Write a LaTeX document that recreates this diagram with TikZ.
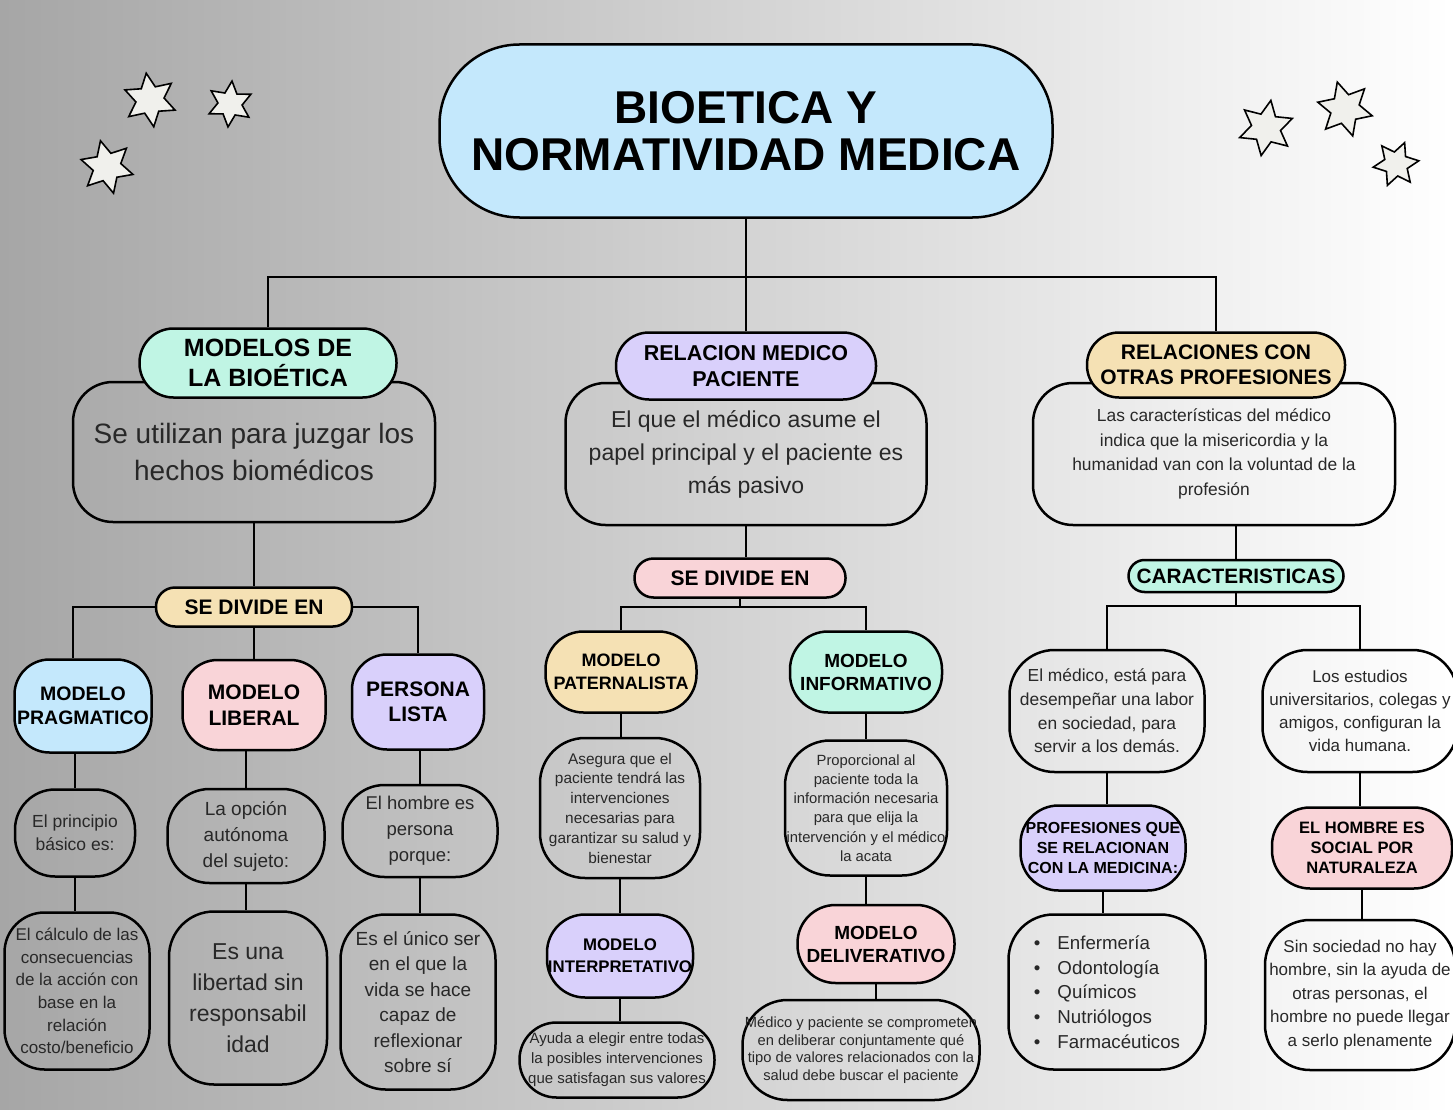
\documentclass[tikz,border=0pt]{standalone}
\usepackage{fontspec}
\setmainfont{Liberation Sans}
\usetikzlibrary{shapes.geometric}

\definecolor{skyfill}{RGB}{196,232,252}
\definecolor{mintfill}{RGB}{192,245,228}
\definecolor{lilacfill}{RGB}{217,208,251}
\definecolor{peachfill}{RGB}{245,225,180}
\definecolor{rosefill}{RGB}{249,212,216}
\definecolor{starfill}{RGB}{240,240,236}
\definecolor{bgleft}{RGB}{166,166,166}
\definecolor{bodytext}{RGB}{40,40,40}

\newcommand{\fsz}[2]{\fontsize{#1}{#2}\selectfont}

\tikzset{
	box/.style={draw, line width=2.5pt, align=center, inner sep=0pt, text=bodytext, rounded corners=40pt},
	head/.style={box, text=black},
	link/.style={line width=2.5pt},
	starry/.style={star, star points=6, star point ratio=1.9, draw, line width=1.6pt, fill=starfill, inner sep=0pt}
}

\begin{document}
\begin{tikzpicture}[x=1pt, y=-1pt]
	\useasboundingbox (0,0) rectangle (1453,1110);
	\shade[left color=bgleft, right color=white] (0,0) rectangle (1453,1110);

	% stars %
	\foreach \x/\y/\sz/\rot [count=\i] in {150/100/54/8, 230/104/46/-5, 107/167/54/14, 1266/128/56/-10, 1345/109/56/16, 1396/164/46/-22}
		\node[starry, minimum size=\sz, rotate=\rot] (star\i) at (\x,\y) {};

	% nodes %
	\node[head, fill=skyfill, minimum width=613, minimum height=173, rounded corners=80pt, font=\fsz{46}{47}\bfseries] (title) at (746,131) {BIOETICA Y\\NORMATIVIDAD MEDICA};

	% left branch
	\node[box, minimum width=362, minimum height=140, font=\fsz{28}{37}] (descl) at (254,452) {Se utilizan para juzgar los\\hechos biomédicos};
	\node[head, fill=mintfill, minimum width=257, minimum height=69, rounded corners=34pt, font=\fsz{25}{30}\bfseries] (modelos) at (268,363) {MODELOS DE\\LA BIOÉTICA};
	\node[head, fill=peachfill, minimum width=196, minimum height=39, rounded corners=19pt, font=\fsz{21}{25}\bfseries] (sdl) at (254,607) {SE DIVIDE EN};
	\node[head, fill=skyfill, minimum width=137, minimum height=93, rounded corners=35pt, font=\fsz{19.5}{24}\bfseries] (prag) at (83,706) {MODELO\\PRAGMATICO};
	\node[head, fill=rosefill, minimum width=143, minimum height=90, rounded corners=35pt, font=\fsz{21}{26}\bfseries] (lib) at (254,705) {MODELO\\LIBERAL};
	\node[head, fill=lilacfill, minimum width=132, minimum height=95, rounded corners=35pt, font=\fsz{21}{25}\bfseries] (pers) at (418,702) {PERSONA\\LISTA};
	\node[box, minimum width=120, minimum height=87, rounded corners=40pt, font=\fsz{17.5}{23}] (prin) at (75,833) {El principio\\básico es:};
	\node[box, minimum width=157, minimum height=94, rounded corners=42pt, font=\fsz{19}{26}] (opc) at (246,836) {La opción\\autónoma\\del sujeto:};
	\node[box, minimum width=155, minimum height=92, rounded corners=42pt, font=\fsz{18.5}{26}] (homb) at (420,831) {El hombre es\\persona\\porque:};
	\node[box, minimum width=145, minimum height=157, font=\fsz{17}{22.6}] (calc) at (77,991) {El cálculo de las\\consecuencias\\de la acción con\\base en la\\relación\\costo/beneficio};
	\node[box, minimum width=158, minimum height=173, rounded corners=45pt, font=\fsz{23}{31}] (libre) at (248,998) {Es una\\libertad sin\\responsabil\\idad};
	\node[box, minimum width=155, minimum height=175, rounded corners=45pt, font=\fsz{19}{25.5}] (unico) at (418,1002) {Es el único ser\\en el que la\\vida se hace\\capaz de\\reflexionar\\sobre sí};

	% middle branch
	\node[box, minimum width=361, minimum height=142, font=\fsz{23}{33}] (descm) at (746,454) {El que el médico asume el\\papel principal y el paciente es\\más pasivo};
	\node[head, fill=lilacfill, minimum width=260, minimum height=67, rounded corners=33pt, font=\fsz{21.5}{26}\bfseries] (relmed) at (746,366) {RELACION MEDICO\\PACIENTE};
	\node[head, fill=rosefill, minimum width=211, minimum height=39, rounded corners=19pt, font=\fsz{21}{25}\bfseries] (sdm) at (740,578) {SE DIVIDE EN};
	\node[head, fill=peachfill, minimum width=151, minimum height=81, rounded corners=38pt, font=\fsz{18}{23}\bfseries] (pat) at (621,672) {MODELO\\PATERNALISTA};
	\node[head, fill=mintfill, minimum width=152, minimum height=81, rounded corners=38pt, font=\fsz{19}{23}\bfseries] (inf) at (866,672) {MODELO\\INFORMATIVO};
	\node[box, minimum width=160, minimum height=140, rounded corners=45pt, font=\fsz{15.4}{19.8}] (aseg) at (620,808) {Asegura que el\\paciente tendrá las\\intervenciones\\necesarias para\\garantizar su salud y\\bienestar};
	\node[box, minimum width=162, minimum height=135, rounded corners=45pt, font=\fsz{14.8}{19.2}] (prop) at (866,808) {Proporcional al\\paciente toda la\\información necesaria\\para que elija la\\intervención y el médico\\la acata};
	\node[head, fill=lilacfill, minimum width=146, minimum height=83, rounded corners=38pt, font=\fsz{16.8}{22}\bfseries] (interp) at (620,956) {MODELO\\INTERPRETATIVO};
	\node[head, fill=rosefill, minimum width=157, minimum height=78, rounded corners=38pt, font=\fsz{19}{23}\bfseries] (deliv) at (876,944) {MODELO\\DELIVERATIVO};
	\node[box, minimum width=195, minimum height=75, rounded corners=37pt, font=\fsz{15}{20}] (ayuda) at (617,1060) {Ayuda a elegir entre todas\\la posibles intervenciones\\que satisfagan sus valores};
	\node[box, minimum width=237, minimum height=100, rounded corners=45pt, font=\fsz{14.7}{17.7}] (medpac) at (861,1050) {Médico y paciente se comprometen\\en deliberar conjuntamente qué\\tipo de valores relacionados con la\\salud debe buscar el paciente};

	% right branch
	\node[box, minimum width=362, minimum height=142, font=\fsz{17.4}{24.5}] (descr) at (1214,454) {Las características del médico\\indica que la misericordia y la\\humanidad van con la voluntad de la\\profesión};
	\node[head, fill=peachfill, minimum width=258, minimum height=65, rounded corners=32pt, font=\fsz{21}{25}\bfseries] (relotr) at (1216,365) {RELACIONES CON\\OTRAS PROFESIONES};
	\node[head, fill=mintfill, minimum width=215, minimum height=32, rounded corners=16pt, font=\fsz{20.8}{24}\bfseries] (carac) at (1236,576) {CARACTERISTICAS};
	\node[box, minimum width=195, minimum height=122, rounded corners=45pt, font=\fsz{17.4}{23.7}] (medi) at (1107,711) {El médico, está para\\desempeñar una labor\\en sociedad, para\\servir a los demás.};
	\node[box, minimum width=195, minimum height=122, rounded corners=45pt, font=\fsz{17}{23}] (estu) at (1360,711) {Los estudios\\universitarios, colegas y\\amigos, configuran la\\vida humana.};
	\node[head, fill=lilacfill, minimum width=165, minimum height=85, rounded corners=38pt, font=\fsz{16}{19.7}\bfseries] (prof) at (1103,848) {PROFESIONES QUE\\SE RELACIONAN\\CON LA MEDICINA:};
	\node[head, fill=rosefill, minimum width=180, minimum height=81, rounded corners=38pt, font=\fsz{16.5}{20}\bfseries] (soc) at (1362,848) {EL HOMBRE ES\\SOCIAL POR\\NATURALEZA};
	\node[box, align=left, minimum width=197, minimum height=155, rounded corners=45pt, font=\fsz{18.7}{24.8}] (lista) at (1107,992) {\textbullet\hspace{17pt}Enfermería\\\textbullet\hspace{17pt}Odontología\\\textbullet\hspace{17pt}Químicos\\\textbullet\hspace{17pt}Nutriólogos\\\textbullet\hspace{17pt}Farmacéuticos};
	\node[box, minimum width=190, minimum height=150, rounded corners=45pt, font=\fsz{17}{23.5}] (sinsoc) at (1360,995) {Sin sociedad no hay\\hombre, sin la ayuda de\\otras personas, el\\hombre no puede llegar\\a serlo plenamente};

	% edges %
	\coordinate (top) at (746,277);
	\draw[link] (title.south) -- (top);
	\draw[link] (modelos.north) |- (top) -| (relotr.north);
	\draw[link] (relmed.north) -- (top);

	\draw[link] (descl.south) -- (descl.south |- sdl.north);
	\draw[link] (sdl.west) -| ([xshift=-10pt]prag.north);
	\draw[link] (sdl.east) -| (pers.north);
	\draw[link] (sdl.south) -- (lib.north);
	\draw[link] (prag.south -| prin.north) -- (prin.north);
	\draw[link] (lib.south -| opc.north) -- (opc.north);
	\draw[link] (pers.south -| homb.north) -- (homb.north);
	\draw[link] (prin.south) -- (prin.south |- calc.north);
	\draw[link] (opc.south) -- (opc.south |- libre.north);
	\draw[link] (homb.south) -- (homb.south |- unico.north);

	\coordinate (midj) at (740,607);
	\draw[link] (descm.south) -- (descm.south |- sdm.north);
	\draw[link] (sdm.south) -- (midj);
	\draw[link] (pat.north) |- (midj) -| (inf.north);
	\draw[link] (pat.south) -- (pat.south |- aseg.north);
	\draw[link] (aseg.south) -- (aseg.south |- interp.north);
	\draw[link] (interp.south) -- (interp.south |- ayuda.north);
	\draw[link] (inf.south) -- (inf.south |- prop.north);
	\draw[link] (prop.south) -- (prop.south |- deliv.north);
	\draw[link] (deliv.south) -- (deliv.south |- medpac.north);

	\coordinate (rightj) at (1236,606);
	\draw[link] (carac.north |- descr.south) -- (carac.north);
	\draw[link] (carac.south) -- (rightj);
	\draw[link] (medi.north) |- (rightj) -| (estu.north);
	\draw[link] (medi.south) -- (medi.south |- prof.north);
	\draw[link] (prof.south) -- (prof.south |- lista.north);
	\draw[link] (estu.south) -- (estu.south |- soc.north);
	\draw[link] (soc.south) -- (soc.south |- sinsoc.north);
\end{tikzpicture}
\end{document}
